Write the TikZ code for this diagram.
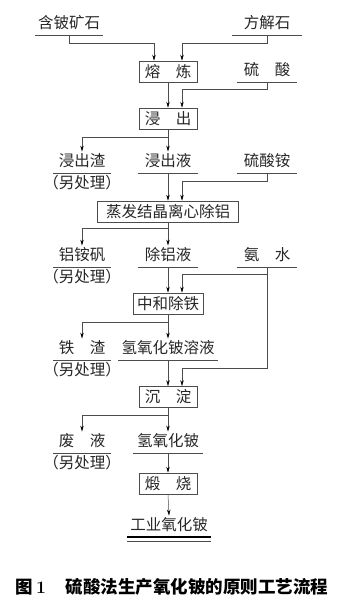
\documentclass[tikz,border=0pt]{standalone}
\usepackage{fontspec}
\newfontfamily\cjk{Noto Sans CJK SC}
\usepackage{tikz}
\usetikzlibrary{arrows.meta, positioning}

\begin{document}
\begin{tikzpicture}[
    x=1pt, y=-1pt,
    >={Stealth[length=6pt, width=3.4pt, color=black]},
    every node/.style={font=\cjk\fontsize{15.5}{18}\selectfont, text=black!85},
    line/.style={draw=black!70, line width=0.5pt},
    box/.style={line, minimum width=58pt, minimum height=21pt, inner xsep=4pt},
    mat/.style={anchor=south, minimum width=60pt, inner xsep=3pt, inner ysep=3pt,
                text height=12pt, text depth=3pt},
    note/.style={below=0pt of #1, inner ysep=3.5pt, text height=12pt, text depth=3pt},
]
  \useasboundingbox (0,0) rectangle (342,600);

  % raw materials
  \node[mat, minimum width=68pt] (ore) at (69,35) {含铍矿石};
  \node[mat, minimum width=70pt] (calcite) at (267,35) {方解石};
  \node[box] (melt) at (168,71.5) {熔\quad 炼};
  \node[mat] (acid) at (267,82) {硫\quad 酸};
  \node[box] (leach) at (168,118.5) {浸\quad 出};

  % leaching products
  \node[mat, minimum width=57pt] (residue) at (82,173) {浸出渣};
  \node[note=residue] (residuenote) {（另处理）};
  \node[mat] (liquor) at (168,173) {浸出液};
  \node[mat] (amsulf) at (267,173) {硫酸铵};
  \node[box, minimum width=141pt] (evap) at (168,211.5) {蒸发结晶离心除铝};

  \node[mat, minimum width=57pt] (alum) at (82,267) {铝铵矾};
  \node[note=alum] (alumnote) {（另处理）};
  \node[mat] (purified) at (168,267) {除铝液};
  \node[mat] (ammonia) at (267,267) {氨\quad 水};
  \node[box, minimum width=70pt] (neutral) at (168,303.5) {中和除铁};

  \node[mat, minimum width=57pt] (slag) at (82,360) {铁\quad 渣};
  \node[note=slag] (slagnote) {（另处理）};
  \node[mat] (hydsol) at (168,360) {氢氧化铍溶液};
  \node[box] (precip) at (168,397) {沉\quad 淀};

  \node[mat, minimum width=57pt] (waste) at (82,453) {废\quad 液};
  \node[note=waste] (wastenote) {（另处理）};
  \node[mat, minimum width=70pt] (hydrox) at (168,453) {氢氧化铍};
  \node[box] (calcine) at (168,483.5) {煅\quad 烧};
  \node[mat, minimum width=80pt] (product) at (169,537) {工业氧化铍};

  \node[font=\cjk\bfseries\fontsize{17.5}{20}\selectfont, text=black] (caption) at (172,587)
      {图\,{\rmfamily\bfseries 1}\hspace{20pt}硫酸法生产氧化铍的原则工艺流程};

  % underlines
  \foreach \n in {ore,calcite,acid,residue,liquor,amsulf,alum,purified,ammonia,slag,hydsol,waste,hydrox}
    \draw[line] (\n.south west) -- (\n.south east);
  \draw[line width=1.8pt] (product.south west) -- (product.south east);
  \draw[line] ([yshift=-4pt]product.south west) -- ([yshift=-4pt]product.south east);

  % flow
  \draw[line, ->] (ore.south) -- ++(0,8) -| ([xshift=-14pt]melt.north);
  \draw[line, ->] (calcite.south) -- ++(0,8) -| ([xshift=14pt]melt.north);
  \draw[line, ->] (melt.south) -- (leach.north);
  \draw[line, ->] (acid.south) -- ++(0,7) -| ([xshift=14pt]leach.north);
  \draw[line, ->] (leach.south) -- (liquor.north);
  \draw[line, ->] ([yshift=-8pt]leach.south) -| (residue.north);
  \draw[line, ->] (liquor.south) -- (evap.north);
  \draw[line, ->] (amsulf.south) -- ++(0,8) -| ([xshift=14pt]evap.north);
  \draw[line, ->] (evap.south) -- (purified.north);
  \draw[line, ->] ([yshift=-6pt]evap.south) -| (alum.north);
  \draw[line, ->] (purified.south) -- (neutral.north);
  \draw[line, ->] ([yshift=-7pt]ammonia.south) -| ([xshift=14pt]neutral.north);
  \draw[line, ->] (ammonia.south) -- ++(0,101) -| ([xshift=14pt]precip.north);
  \draw[line, ->] (neutral.south) -- (hydsol.north);
  \draw[line, ->] ([yshift=-8pt]neutral.south) -| (slag.north);
  \draw[line, ->] (hydsol.south) -- (precip.north);
  \draw[line, ->] (precip.south) -- (hydrox.north);
  \draw[line, ->] ([yshift=-7pt]precip.south) -| (waste.north);
  \draw[line, ->] (hydrox.south) -- (calcine.north);
  \draw[line, ->] (calcine.south) -- (product.north);
\end{tikzpicture}
\end{document}
